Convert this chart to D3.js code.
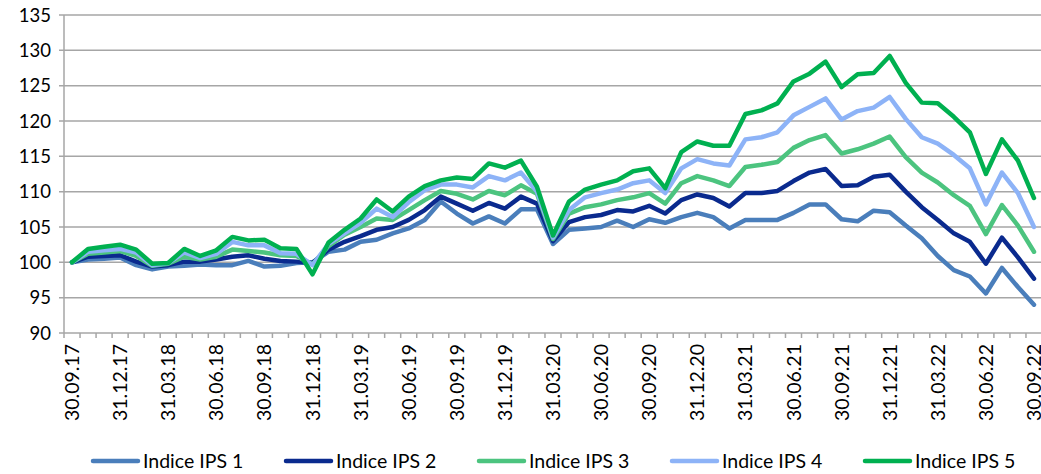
<!DOCTYPE html>
<html><head><meta charset="utf-8">
<script src="https://cdn.jsdelivr.net/npm/d3@7"></script>
<style>
html,body{margin:0;padding:0;background:#fff;}
svg text{font-family:Lato,"Noto Sans",sans-serif;fill:#000;}
</style></head>
<body><svg id="chart" width="1041" height="474"></svg>
<script>
const dates = ["30.09.17","31.10.17","30.11.17","31.12.17","31.01.18","28.02.18","31.03.18","30.04.18","31.05.18","30.06.18","31.07.18","31.08.18","30.09.18","31.10.18","30.11.18","31.12.18","31.01.19","28.02.19","31.03.19","30.04.19","31.05.19","30.06.19","31.07.19","31.08.19","30.09.19","31.10.19","30.11.19","31.12.19","31.01.20","29.02.20","31.03.20","30.04.20","31.05.20","30.06.20","31.07.20","31.08.20","30.09.20","31.10.20","30.11.20","31.12.20","31.01.21","28.02.21","31.03.21","30.04.21","31.05.21","30.06.21","31.07.21","31.08.21","30.09.21","31.10.21","30.11.21","31.12.21","31.01.22","28.02.22","31.03.22","30.04.22","31.05.22","30.06.22","31.07.22","31.08.22","30.09.22"];

const ips1 = [100.0,100.4,100.5,100.7,99.6,99.0,99.4,99.5,99.7,99.6,99.6,100.2,99.4,99.5,99.9,100.0,101.5,101.8,102.9,103.2,104.1,104.8,106.0,108.6,106.9,105.5,106.5,105.5,107.5,107.5,102.6,104.6,104.8,105.0,105.9,105.0,106.1,105.6,106.4,107.0,106.4,104.8,106.0,106.0,106.0,107.0,108.2,108.2,106.1,105.8,107.3,107.1,105.2,103.4,100.9,98.9,98.0,95.6,99.2,96.5,94.0];
const ips2 = [100.0,100.8,100.9,101.0,100.1,99.4,99.6,100.1,100.1,100.4,100.8,101.0,100.5,100.2,100.1,99.9,101.8,102.9,103.7,104.6,105.0,106.0,107.4,109.3,108.3,107.3,108.4,107.6,109.3,108.3,103.0,105.7,106.4,106.7,107.4,107.2,108.0,106.9,108.8,109.6,109.1,107.9,109.8,109.8,110.1,111.5,112.7,113.2,110.8,110.9,112.1,112.4,110.0,107.8,106.0,104.1,102.9,99.8,103.5,100.7,97.7];
const ips3 = [100.0,101.2,101.4,101.6,100.9,99.5,99.8,100.8,100.4,100.8,101.8,101.6,101.4,101.0,100.9,99.7,102.3,103.9,105.0,106.2,106.0,107.4,108.8,110.1,109.7,108.9,110.1,109.5,110.9,109.7,103.3,106.9,107.8,108.2,108.8,109.2,109.8,108.3,111.2,112.2,111.6,110.8,113.5,113.8,114.2,116.2,117.3,118.0,115.4,116.0,116.8,117.8,114.9,112.7,111.3,109.5,108.0,104.0,108.1,105.2,101.5];
const ips4 = [100.0,101.5,101.7,101.9,101.4,99.6,99.9,101.4,100.6,101.2,102.9,102.4,102.4,101.3,101.2,99.6,102.6,104.1,105.6,107.6,106.4,108.5,110.2,111.0,111.0,110.6,112.2,111.6,112.7,110.0,103.5,107.4,109.2,109.8,110.3,111.2,111.6,109.8,113.3,114.6,114.0,113.7,117.4,117.7,118.4,120.8,122.0,123.2,120.2,121.4,121.9,123.4,120.3,117.7,116.8,115.2,113.3,108.2,112.7,109.8,105.0];
const ips5 = [100.0,101.9,102.2,102.5,101.8,99.8,99.9,101.9,100.9,101.7,103.6,103.1,103.2,102.0,101.9,98.3,102.8,104.6,106.2,108.9,107.2,109.3,110.8,111.6,112.0,111.8,114.0,113.4,114.4,110.7,103.8,108.6,110.3,111.0,111.6,112.9,113.3,110.5,115.6,117.1,116.5,116.5,121.0,121.5,122.5,125.6,126.7,128.4,124.8,126.6,126.8,129.2,125.4,122.6,122.5,120.6,118.4,112.5,117.4,114.4,109.1];

const seriesNames = ["Indice IPS 1","Indice IPS 2","Indice IPS 3","Indice IPS 4","Indice IPS 5"];
const seriesValues = [ips1, ips2, ips3, ips4, ips5];
const seriesColors = ["#4a7ebb","#0a2a8e","#4cc47f","#8db3f7","#00b050"];
const yTicks = [90,95,100,105,110,115,120,125,130,135];

(function(){
const svg = d3.select("#chart");
const pL = 64, pR = 1042, pT = 15, pB = 333;

const x = d3.scaleBand().domain(dates).range([pL, pR]).padding(0);
const y = d3.scaleLinear().domain([90,135]).range([pB, pT]);
const cx = d => x(d) + x.bandwidth()/2;

svg.append("g").selectAll("line").data(yTicks).join("line")
  .attr("x1", pL-5).attr("x2", 1041)
  .attr("y1", d=>y(d)).attr("y2", d=>y(d))
  .attr("stroke", "#a6a6a6").attr("stroke-width", 1.5);

svg.append("line").attr("x1", pL).attr("x2", pL).attr("y1", pT).attr("y2", pB)
  .attr("stroke", "#a6a6a6").attr("stroke-width", 1.5);

svg.append("g").selectAll("text").data(yTicks).join("text")
  .attr("x", 51).attr("y", d=>y(d)).attr("dy", "0.36em")
  .attr("text-anchor", "end").attr("font-size", 18.5).text(d=>d);

const boundaries = dates.map(d => x(d)).concat([pR]);
svg.append("g").selectAll("line").data(boundaries).join("line")
  .attr("x1", d=>d).attr("x2", d=>d).attr("y1", pB).attr("y2", pB+5)
  .attr("stroke", "#a6a6a6").attr("stroke-width", 1.5);

svg.append("g").selectAll("text").data(dates.filter((d,i)=> i%3===0)).join("text")
  .attr("transform", d=>`translate(${cx(d)},${pB+11}) rotate(-90)`)
  .attr("text-anchor", "end").attr("dy", "0.36em").attr("font-size", 19.5).text(d=>d);

const line = d3.line().x((v,i)=>cx(dates[i])).y(v=>y(v));
seriesValues.forEach((vals, k) => {
  svg.append("path").datum(vals).attr("d", line)
    .attr("fill", "none").attr("stroke", seriesColors[k]).attr("stroke-width", 4.5)
    .attr("stroke-linejoin", "round").attr("stroke-linecap", "round");
});

const legY = 461;
const leg = svg.append("g");
seriesNames.forEach((n, k) => {
  const lx = 93 + k*193;
  leg.append("line").attr("x1", lx).attr("x2", lx+45).attr("y1", legY).attr("y2", legY)
    .attr("stroke", seriesColors[k]).attr("stroke-width", 4.5).attr("stroke-linecap", "round");
  leg.append("text").attr("x", lx+50).attr("y", legY).attr("dy", "0.36em")
    .attr("font-size", 19.5).text(n);
});
})();
</script></body></html>
